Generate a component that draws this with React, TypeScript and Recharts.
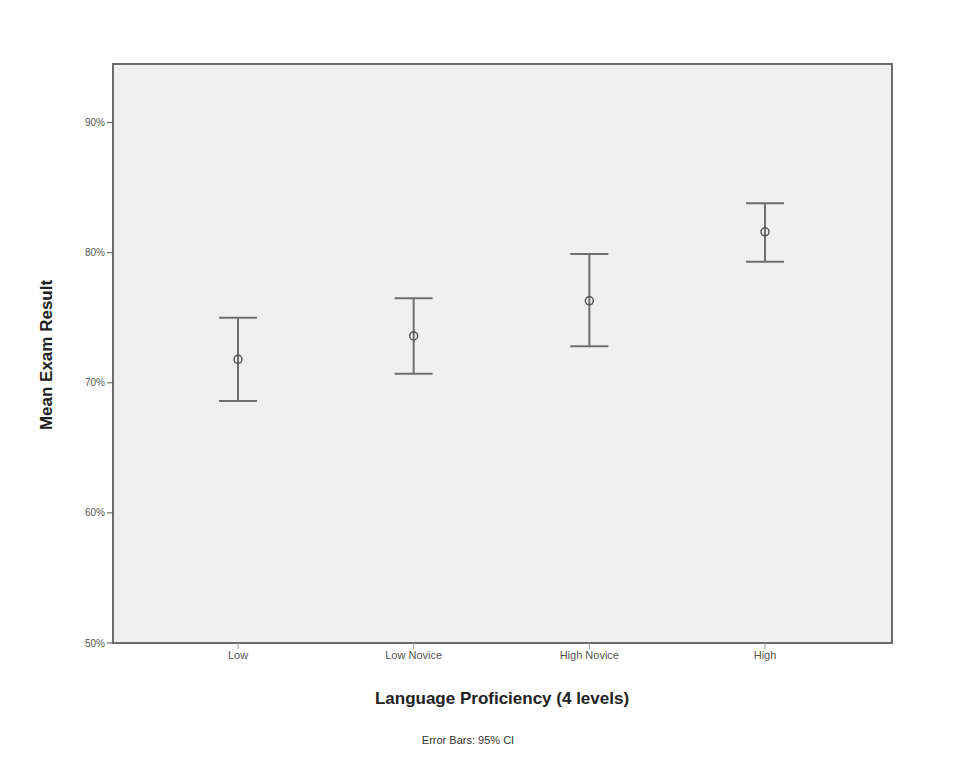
import { LineChart, Line, XAxis, YAxis, ErrorBar } from 'recharts';

const categories = ['Low', 'Low Novice', 'High Novice', 'High'];
const means = [71.8, 73.6, 76.3, 81.6];
const lower = [68.6, 70.7, 72.8, 79.3];
const upper = [75.0, 76.5, 79.9, 83.8];
const yTicks = [50, 60, 70, 80, 90];

const data = categories.map((name, i) => ({
  name,
  mean: means[i],
  ci: [means[i] - lower[i], upper[i] - means[i]],
}));

const frame = '#6b6b6b';
const tickStyle = { fontSize: 10, fill: '#555', fontFamily: 'Arial, Liberation Sans, sans-serif' };

export default function App() {
  return (
    <div style={{ position: 'absolute', left: 0, top: 0, width: 954, height: 768, background: '#fff' }}>
      <LineChart
        width={954}
        height={768}
        data={data}
        margin={{ top: 64, right: 62, bottom: 95, left: 0 }}
      >
        {/* plot frame */}
        <rect x={113} y={64} width={779} height={579} fill="#f0f0f0" stroke={frame} strokeWidth={2} />
        <XAxis
          dataKey="name"
          type="category"
          scale="point"
          padding={{ left: 125, right: 127 }}
          height={30}
          axisLine={{ stroke: frame, strokeWidth: 2 }}
          tickLine={{ stroke: '#999' }}
          tickSize={6}
          tick={{ ...tickStyle, fontSize: 11 }}
        />
        <YAxis
          type="number"
          domain={[50, 94.5]}
          ticks={yTicks}
          width={113}
          allowDataOverflow
          axisLine={{ stroke: frame, strokeWidth: 2 }}
          tickLine={{ stroke: '#555' }}
          tickSize={6}
          tick={tickStyle}
          tickFormatter={(v: number) => `${v}%`}
        />
        <Line
          dataKey="mean"
          stroke="none"
          isAnimationActive={false}
          dot={{ r: 4, fill: 'none', stroke: '#555', strokeWidth: 1.5 }}
          activeDot={false}
        >
          <ErrorBar dataKey="ci" width={19} stroke="#6e6e6e" strokeWidth={2} direction="y" />
        </Line>
      </LineChart>
      <div
        style={{
          position: 'absolute',
          left: 47,
          top: 355,
          transform: 'translate(-50%, -50%) rotate(-90deg)',
          whiteSpace: 'nowrap',
          fontFamily: 'Arial, Liberation Sans, sans-serif',
          fontWeight: 'bold',
          fontSize: 17,
          color: '#222',
        }}
      >
        Mean Exam Result
      </div>
      <div
        style={{
          position: 'absolute',
          left: 502,
          top: 699,
          transform: 'translate(-50%, -50%)',
          whiteSpace: 'nowrap',
          fontFamily: 'Arial, Liberation Sans, sans-serif',
          fontWeight: 'bold',
          fontSize: 17,
          color: '#222',
        }}
      >
        Language Proficiency (4 levels)
      </div>
      <div
        style={{
          position: 'absolute',
          left: 468,
          top: 740,
          transform: 'translate(-50%, -50%)',
          whiteSpace: 'nowrap',
          fontFamily: 'Arial, Liberation Sans, sans-serif',
          fontSize: 11,
          color: '#333',
        }}
      >
        Error Bars: 95% CI
      </div>
    </div>
  );
}
